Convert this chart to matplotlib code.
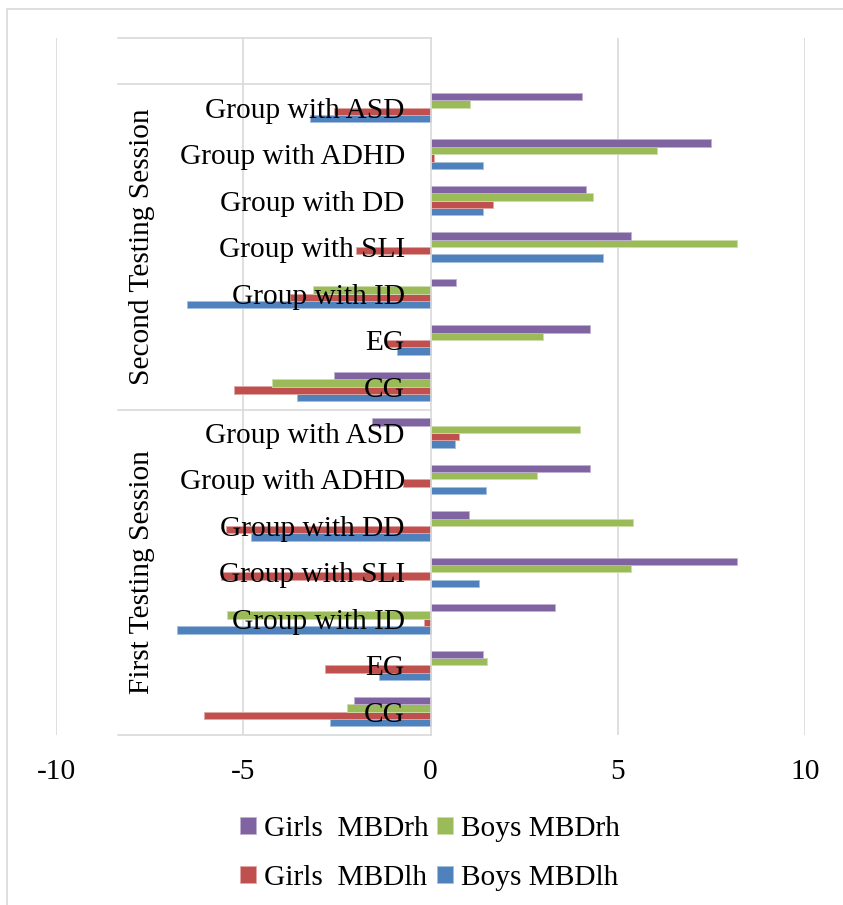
import matplotlib
matplotlib.use("Agg")
import matplotlib.pyplot as plt
from matplotlib.patches import Rectangle

plt.rcParams["font.family"] = ["Liberation Serif", "DejaVu Serif"]

# Categories, bottom to top, for each testing session
groups = ["CG", "EG", "Group with ID", "Group with SLI", "Group with DD",
          "Group with ADHD", "Group with ASD"]
sessions = ["First Testing Session", "Second Testing Session"]
categories = groups + groups

# Series values: first session (7 groups) followed by second session (7 groups)
boys_lh = [-2.68, -1.38, -6.77, 1.30, -4.79, 1.48, 0.66,
           -3.57, -0.89, -6.49, 4.61, 1.41, 1.40, -3.23]
girls_lh = [-6.05, -2.83, -0.18, -5.60, -5.45, -0.74, 0.76,
            -5.25, -1.20, -3.75, -2.00, 1.67, 0.10, -2.58]
boys_rh = [-2.23, 1.50, -5.43, 5.35, 5.41, 2.85, 4.00,
           -4.24, 3.00, -3.14, 8.18, 4.34, 6.06, 1.06]
girls_rh = [-2.05, 1.41, 3.32, 8.18, 1.04, 4.27, -1.56,
            -2.58, 4.25, 0.67, 5.35, 4.16, 7.49, 4.04]

x_ticks = [-10, -5, 0, 5, 10]

series = [
    ("Boys MBDlh", boys_lh, "#4F81BD", "#A7C0DE"),
    ("Girls  MBDlh", girls_lh, "#C0504D", "#E0A8A6"),
    ("Boys MBDrh", boys_rh, "#9BBB59", "#CDDDAC"),
    ("Girls  MBDrh", girls_rh, "#8064A2", "#BFB1D0"),
]

FS = 21.2
W, H = 843, 905
fig = plt.figure(figsize=(W / 100, H / 100), dpi=100)
ax = fig.add_axes([56 / W, (H - 735) / H, (805 - 56) / W, (735 - 38) / H])
ax.set_axisbelow(False)

n = len(categories)
bar_h = 0.158
pos = list(range(n))
handles = {}
for k, (name, vals, col, edge) in enumerate(series):
    off = (k - 1.5) * bar_h
    b = ax.barh([p + off for p in pos], vals, height=bar_h, color=col,
                edgecolor=edge, linewidth=0.6, zorder=2, label=name)
    handles[name] = b

ax.set_xlim(-10, 10)
ax.set_ylim(-0.5, n + 0.5)

# vertical gridlines behind the bars
grid_col = "#D9D9D9"
for v in x_ticks:
    if v != 0:
        ax.axvline(v, color=grid_col, lw=1.2, zorder=0)

for s in ["top", "right", "bottom"]:
    ax.spines[s].set_visible(False)
ax.spines["left"].set_position(("data", 0))
ax.spines["left"].set_color(grid_col)
ax.spines["left"].set_linewidth(1.2)

ax.set_xticks(x_ticks)
ax.set_xticklabels([str(v) for v in x_ticks])
ax.tick_params(axis="x", length=0, pad=17, labelsize=FS)
ax.set_yticks(pos)
ax.set_yticklabels(categories)
ax.tick_params(axis="y", length=0, pad=18.5, labelsize=FS)

# session separators on the category axis
sep_x0 = -10 + (118 - 56) / 37.45
for y in [-0.5, 6.5, 13.5, n + 0.5]:
    ax.plot([sep_x0, 0], [y, y], color=grid_col, lw=1.2, clip_on=False, zorder=1)

# session labels
ax.text(-7.7, 3, sessions[0], rotation=90, ha="center", va="center",
        fontsize=FS, zorder=5)
ax.text(-7.7, 10, sessions[1], rotation=90, ha="center", va="center",
        fontsize=FS, zorder=5)

# legend
order = ["Girls  MBDrh", "Girls  MBDlh", "Boys MBDrh", "Boys MBDlh"]
leg = fig.legend([handles[o] for o in order], order, ncol=2, loc="center",
                 bbox_to_anchor=(0.510, 1 - 853.5 / H), frameon=False,
                 fontsize=FS, handlelength=0.55, handleheight=0.55,
                 handletextpad=0.25, columnspacing=0.3, labelspacing=0.78,
                 borderpad=0)

# chart area border
fig.patches.append(Rectangle((7 / W, -0.1), 1.2, 1 - 9 / H + 0.1,
                             transform=fig.transFigure, fill=False,
                             edgecolor=grid_col, lw=1.2))

fig.savefig("out.png", dpi=100)
